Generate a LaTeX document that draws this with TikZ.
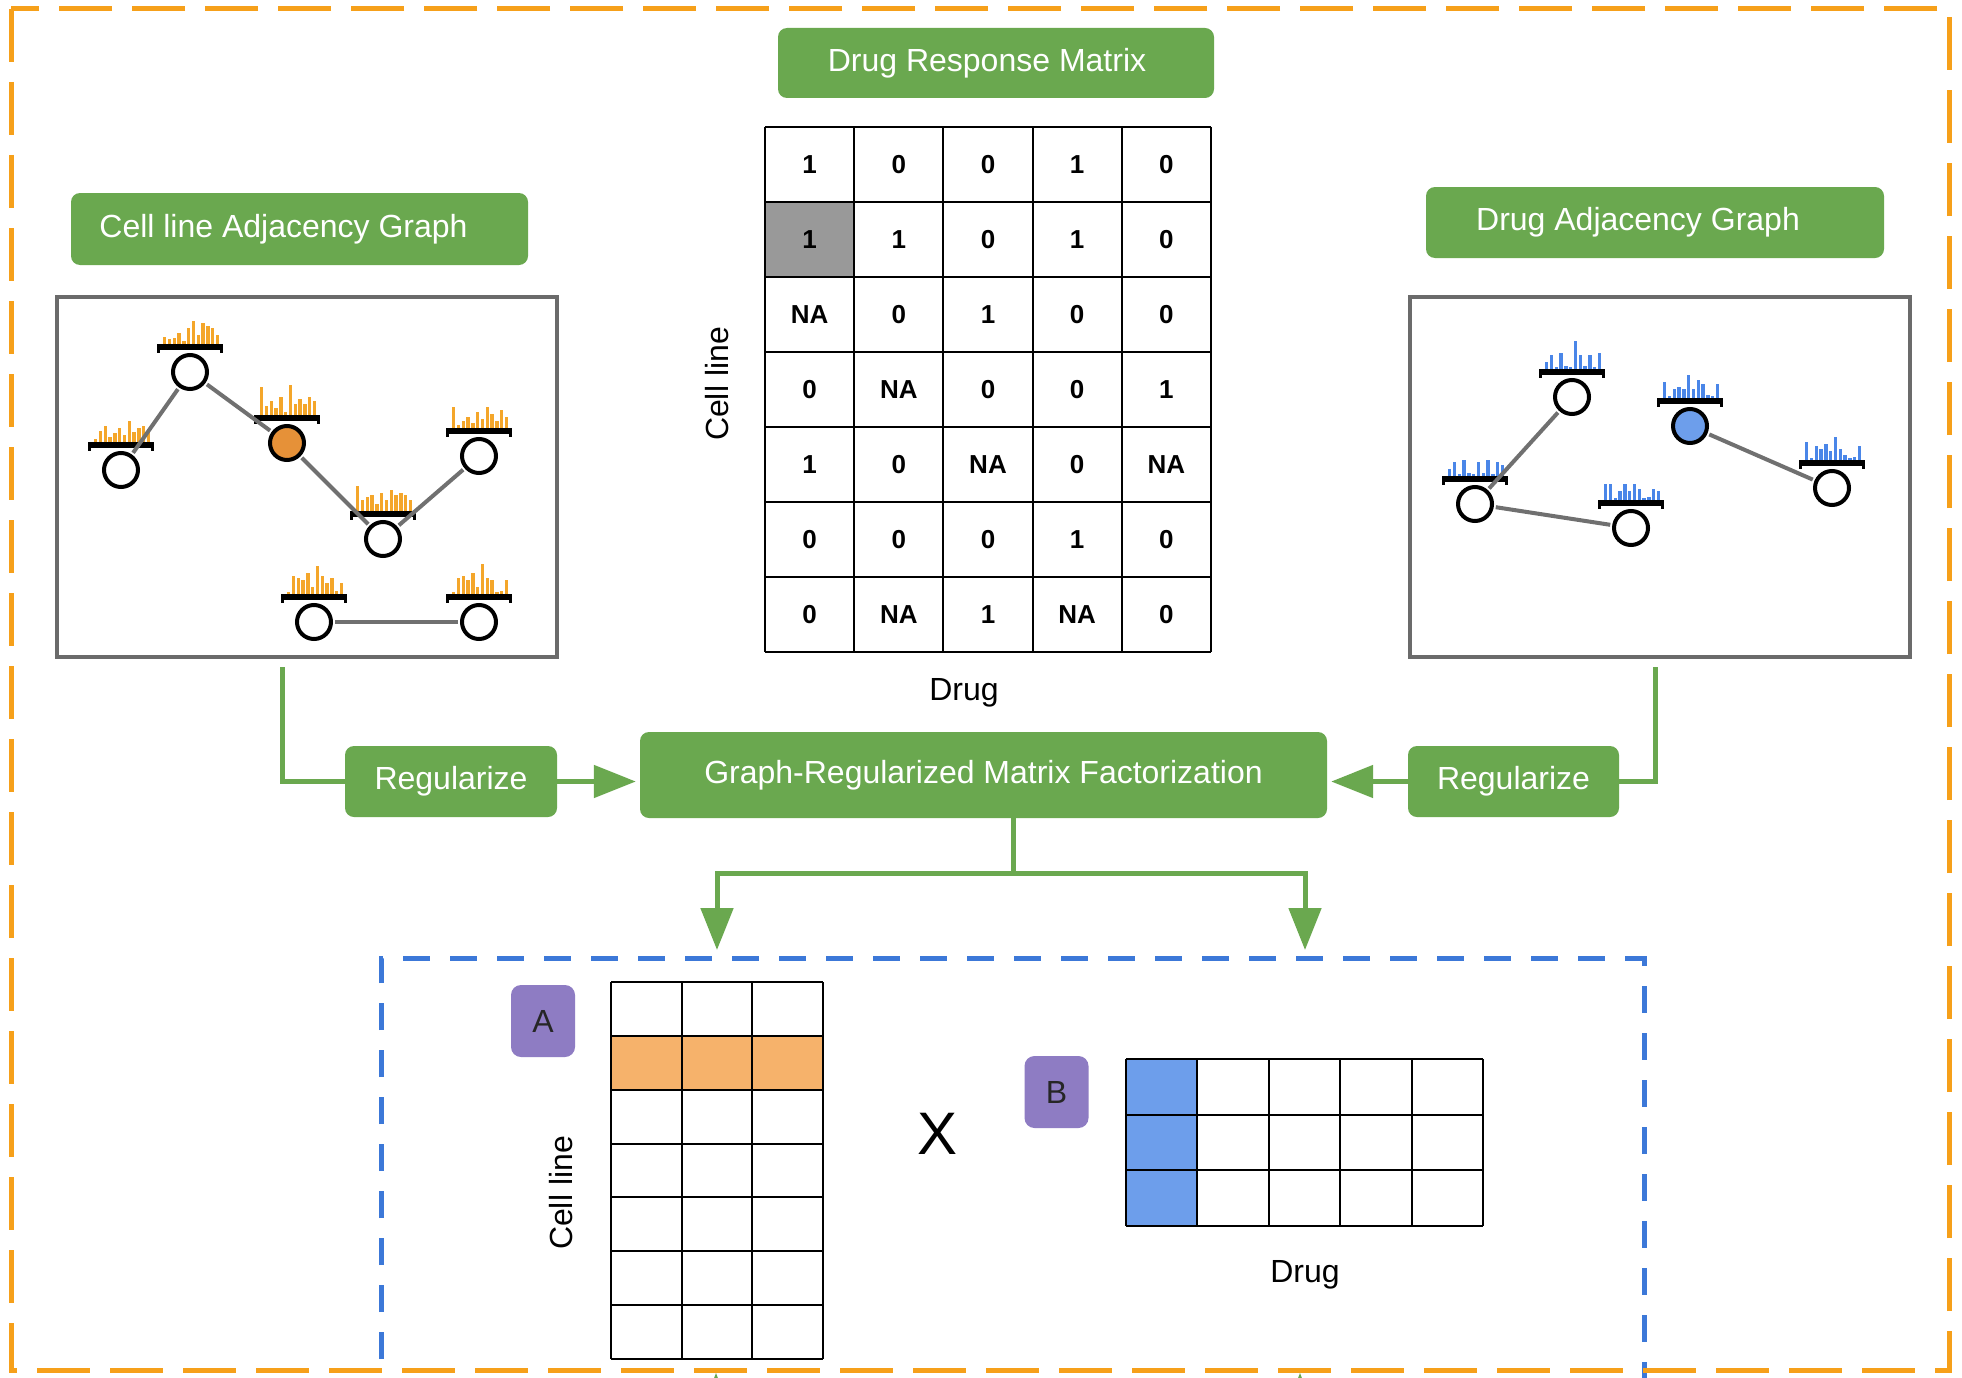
\documentclass[tikz,border=0pt]{standalone}
\usepackage{fontspec}
\setmainfont{Liberation Sans}
\usetikzlibrary{arrows.meta}
\definecolor{gboxc}{HTML}{6AA84F}
\definecolor{orngb}{HTML}{F6A01A}
\definecolor{blueb}{HTML}{3C78D8}
\definecolor{purp}{HTML}{8E7CC3}
\definecolor{ornode}{HTML}{E69138}
\definecolor{blnode}{HTML}{6D9EEB}
\definecolor{orbar}{HTML}{F4A62A}
\definecolor{blbar}{HTML}{4A86E8}
\definecolor{framec}{HTML}{6B6B6B}
\definecolor{edgec}{HTML}{707070}
\definecolor{aorange}{HTML}{F6B26B}
\definecolor{bblue}{HTML}{6D9EEB}
\definecolor{cellgray}{HTML}{999999}
\newcommand{\fs}[1]{\fontsize{#1}{#1}\selectfont}
\newcommand{\gnode}[6]{%
  \node[gcirc, fill=#4] (#1) at (#2,#3) {};
  \fill[black] ({#2-33},{#3-28}) rectangle ({#2+33},{#3-22});
  \fill[black] ({#2-33},{#3-22}) rectangle ({#2-30},{#3-19});
  \fill[black] ({#2+30},{#3-22}) rectangle ({#2+33},{#3-19});
  \foreach \h [count=\i] in {#6} \fill[#5] ({#2-27+(\i-1)*4.8},{#3-28}) rectangle ++(3.3,{-1.15*\h});
}
\tikzset{
  gbox/.style={fill=gboxc, rounded corners=9pt, text=white, font=\fs{32}, inner sep=0pt},
  pbox/.style={fill=purp, rounded corners=10pt, text=black!85, font=\fs{32}, inner sep=0pt, minimum width=64pt, minimum height=72pt},
  gcirc/.style={circle, draw=black, line width=4pt, minimum size=34pt, inner sep=0pt},
  gedge/.style={draw=edgec, line width=4pt, shorten <=2pt, shorten >=2pt},
  gframe/.style={draw=framec, line width=4pt},
  flow/.style={draw=gboxc, line width=5pt},
  flowarr/.style={flow, -{Triangle[length=42pt,width=32pt]}},
  mtext/.style={font=\fs{26}\bfseries, inner sep=0pt},
  lbl/.style={font=\fs{32}, inner sep=0pt},
  mline/.style={draw=black, line width=2pt},
}
\begin{document}
\begin{tikzpicture}[x=1pt,y=-1pt]
\useasboundingbox (0,0) rectangle (1962,1378);
\clip (0,0) rectangle (1962,1378);
\fill[white] (0,0) rectangle (1962,1378);

% green title boxes
\node[gbox, minimum width=436pt, minimum height=70pt] (drm) at (996,63) {\kern-18pt Drug Response Matrix};
\node[gbox, minimum width=457pt, minimum height=72pt] (clg) at (299.5,229) {\kern-32pt Cell line Adjacency Graph};
\node[gbox, minimum width=458pt, minimum height=71pt] (dag) at (1655,222.5) {\kern-34pt Drug Adjacency Graph};

% graph frames
\node[gframe, minimum width=500pt, minimum height=360pt, inner sep=0pt] (lg) at (307,477) {};
\node[gframe, minimum width=500pt, minimum height=360pt, inner sep=0pt] (rg) at (1660,477) {};

% left graph
\gnode{n1}{121}{470}{white}{orbar}{3,10,14,4,8,12,6,18,9,12,14,10}
\gnode{n2}{190}{372}{white}{orbar}{6,4,5,10,3,14,20,8,18,16,14,8}
\gnode{n3}{287}{443}{ornode}{orbar}{24,8,12,6,16,3,26,10,14,10,16,12}
\gnode{n4}{383}{539}{white}{orbar}{22,10,12,14,6,16,10,18,14,16,14,10}
\gnode{n5}{479}{456}{white}{orbar}{18,3,6,10,4,14,8,18,12,6,16,10}
\gnode{n6}{314}{622}{white}{orbar}{2,16,14,12,18,6,24,16,10,14,3,10}
\gnode{n7}{479}{622}{white}{orbar}{2,14,16,12,18,6,26,14,12,2,3,12}
\draw[gedge] (n1) -- (n2);
\draw[gedge] (n2) -- (n3);
\draw[gedge] (n3) -- (n4);
\draw[gedge] (n4) -- (n5);
\draw[gedge] (n6) -- (n7);

% right graph
\gnode{m1}{1475}{504}{white}{blbar}{6,12,2,14,3,2,12,3,14,2,12,10}
\gnode{m2}{1572}{397}{white}{blbar}{6,12,2,14,3,2,24,12,3,12,2,14}
\gnode{m3}{1631}{528}{white}{blbar}{14,14,2,8,14,8,14,10,2,3,10,8}
\gnode{m4}{1690}{426}{blnode}{blbar}{14,2,8,10,8,20,8,16,12,3,2,12}
\gnode{m5}{1832}{488}{white}{blbar}{16,2,12,10,14,8,20,10,4,2,3,12}
\draw[gedge] (m1) -- (m2);
\draw[gedge] (m1) -- (m3);
\draw[gedge] (m4) -- (m5);

% drug response matrix
\fill[cellgray] (765,202) rectangle (854.2,277);
\foreach \k in {0,...,5} \draw[mline] ({765+\k*89.2},127) -- ({765+\k*89.2},652);
\foreach \k in {0,...,7} \draw[mline] (765,{127+\k*75}) -- (1211,{127+\k*75});
\foreach \row [count=\r] in {{1,0,0,1,0},{1,1,0,1,0},{NA,0,1,0,0},{0,NA,0,0,1},{1,0,NA,0,NA},{0,0,0,1,0},{0,NA,1,NA,0}} {
  \foreach \v [count=\c] in \row {
    \node[mtext] (dr-\r-\c) at ({765+(\c-0.5)*89.2},{127+(\r-0.5)*75}) {\v};
  }
}
\node[lbl] (druglbl) at (964,693) {Drug};
\node[lbl, rotate=90] (celllbl) at (717,384) {Cell line};

% flow boxes
\node[gbox, minimum width=212pt, minimum height=71pt] (regL) at (451,781.5) {Regularize};
\node[gbox, minimum width=687pt, minimum height=86pt] (grmf) at (983.5,775) {Graph-Regularized Matrix Factorization};
\node[gbox, minimum width=211pt, minimum height=71pt] (regR) at (1513.5,781.5) {Regularize};

% blue dashed box
\draw[blueb, line width=5pt, dash pattern=on 27pt off 20pt] (381,1500) -- (381,958) -- (1644,958) -- (1644,1500);

% flows
\coordinate (lgout) at (282,667);
\coordinate (rgout) at (1655,667);
\draw[flow] (lgout) |- (regL.west);
\draw[flowarr, shorten >=4pt] (regL.east) -- (regL.east -| grmf.west);
\draw[flow] (rgout) |- (regR.east);
\draw[flowarr, shorten >=4pt] (regR.west) -- (regR.west -| grmf.east);
\coordinate (split) at (1013,873);
\coordinate (tipA) at (717,950);
\coordinate (tipB) at (1305,950);
\draw[flow] (grmf.south -| split) -- (split);
\draw[flowarr] (split) -| (tipA);
\draw[flowarr] (split) -| (tipB);
\fill[gboxc] (716,1373) -- (700,1415) -- (732,1415) -- cycle;
\fill[gboxc] (1300,1373) -- (1284,1415) -- (1316,1415) -- cycle;

% factor matrices
\node[pbox] (boxA) at (543,1021) {A};
\node[pbox] (boxB) at (1056.5,1092) {B};
\fill[aorange] (611,1035.9) rectangle (823,1089.7);
\foreach \k in {0,...,3} \draw[mline] ({611+\k*70.67},982) -- ({611+\k*70.67},1359);
\foreach \k in {0,...,7} \draw[mline] (611,{982+\k*53.857}) -- (823,{982+\k*53.857});
\fill[bblue] (1126,1059) rectangle (1197.4,1226);
\foreach \k in {0,...,5} \draw[mline] ({1126+\k*71.4},1059) -- ({1126+\k*71.4},1226);
\foreach \k in {0,...,3} \draw[mline] (1126,{1059+\k*55.67}) -- (1483,{1059+\k*55.67});
\node[font=\fs{60}, inner sep=0pt] (times) at (937,1134) {X};
\node[lbl, rotate=90] (cellA) at (561,1193) {Cell line};
\node[lbl] (drugB) at (1305,1275) {Drug};

% orange border
\draw[orngb, line width=5pt, dash pattern=on 53pt off 20pt] (11,9) rectangle (1949,1370);
\end{tikzpicture}
\end{document}
